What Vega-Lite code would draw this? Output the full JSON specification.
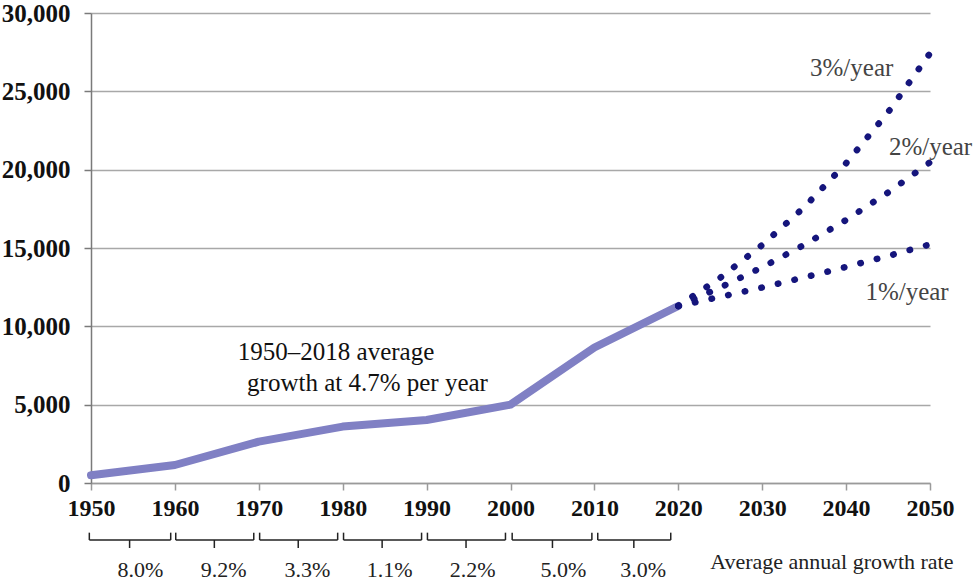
{
  "$schema": "https://vega.github.io/schema/vega-lite/v6.json",
  "width": 839,
  "height": 470,
  "autosize": "none",
  "padding": {"left": 91, "top": 13, "right": 45, "bottom": 100},
  "background": "white",
  "config": {"view": {"stroke": null}, "font": "Liberation Serif, Times New Roman, serif"},
  "datasets": {
    "hist": [
      {"year": 1950, "value": 500},
      {"year": 1960, "value": 1150},
      {"year": 1970, "value": 2640},
      {"year": 1980, "value": 3600},
      {"year": 1990, "value": 4020},
      {"year": 2000, "value": 5000},
      {"year": 2010, "value": 8650},
      {"year": 2020, "value": 11300}
    ],
    "proj": [
      {"year": 2020, "value": 11300, "s": "3%"},
      {"year": 2025, "value": 13100, "s": "3%"},
      {"year": 2030, "value": 15190, "s": "3%"},
      {"year": 2035, "value": 17600, "s": "3%"},
      {"year": 2040, "value": 20410, "s": "3%"},
      {"year": 2045, "value": 23660, "s": "3%"},
      {"year": 2050, "value": 27430, "s": "3%"},
      {"year": 2020, "value": 11300, "s": "2%"},
      {"year": 2025, "value": 12480, "s": "2%"},
      {"year": 2030, "value": 13770, "s": "2%"},
      {"year": 2035, "value": 15200, "s": "2%"},
      {"year": 2040, "value": 16790, "s": "2%"},
      {"year": 2045, "value": 18540, "s": "2%"},
      {"year": 2050, "value": 20470, "s": "2%"},
      {"year": 2020, "value": 11300, "s": "1%"},
      {"year": 2025, "value": 11880, "s": "1%"},
      {"year": 2030, "value": 12480, "s": "1%"},
      {"year": 2035, "value": 13120, "s": "1%"},
      {"year": 2040, "value": 13790, "s": "1%"},
      {"year": 2045, "value": 14490, "s": "1%"},
      {"year": 2050, "value": 15230, "s": "1%"}
    ],
    "brackets": [
      {"s": 1949.8, "e": 1959.5, "m": 1954.6, "lx": 1955.9, "label": "8.0%"},
      {"s": 1960.1, "e": 1969.4, "m": 1964.7, "lx": 1965.8, "label": "9.2%"},
      {"s": 1970.1, "e": 1979.4, "m": 1974.7, "lx": 1975.8, "label": "3.3%"},
      {"s": 1980.1, "e": 1989.4, "m": 1984.7, "lx": 1985.6, "label": "1.1%"},
      {"s": 1990.1, "e": 1999.4, "m": 1994.7, "lx": 1995.5, "label": "2.2%"},
      {"s": 2000.2, "e": 2009.7, "m": 2005.0, "lx": 2006.3, "label": "5.0%"},
      {"s": 2010.4, "e": 2019.1, "m": 2014.7, "lx": 2015.8, "label": "3.0%"}
    ],
    "notes": [
      {"x": 1967.5, "y": 8365, "t": "1950\u20132018 average", "c": "#111111"},
      {"x": 1968.6, "y": 6385, "t": "growth at 4.7% per year", "c": "#111111"},
      {"x": 2035.7, "y": 26500, "t": "3%/year", "c": "#444444"},
      {"x": 2045.1, "y": 21460, "t": "2%/year", "c": "#444444"},
      {"x": 2042.3, "y": 12200, "t": "1%/year", "c": "#444444"}
    ]
  },
  "layer": [
    {
      "data": {"name": "hist"},
      "mark": {"type": "line", "color": "#8080c4", "strokeWidth": 8, "strokeCap": "round", "strokeJoin": "round"},
      "encoding": {
        "x": {
          "field": "year", "type": "quantitative",
          "scale": {"domain": [1950, 2050], "nice": false, "zero": false},
          "axis": {
            "title": null, "grid": false, "format": "d",
            "values": [1950, 1960, 1970, 1980, 1990, 2000, 2010, 2020, 2030, 2040, 2050],
            "domainColor": "#9a9a9a", "domainWidth": 1.5,
            "tickColor": "#9a9a9a", "tickWidth": 1.5, "tickSize": 7,
            "labelFont": "Liberation Serif, Times New Roman, serif", "labelFontWeight": "bold", "labelFontSize": 24,
            "labelColor": "#111111", "labelPadding": 6, "labelFlush": false
          }
        },
        "y": {
          "field": "value", "type": "quantitative",
          "scale": {"domain": [0, 30000], "nice": false},
          "axis": {
            "title": null, "grid": true, "format": ",.0f",
            "values": [0, 5000, 10000, 15000, 20000, 25000, 30000],
            "gridColor": "#a8a8a8", "gridWidth": 1.5,
            "domainColor": "#7a7a7a", "domainWidth": 1.5,
            "tickColor": "#7a7a7a", "tickWidth": 1.5, "tickSize": 7,
            "labelFont": "Liberation Serif, Times New Roman, serif", "labelFontWeight": "bold", "labelFontSize": 25,
            "labelColor": "#111111", "labelPadding": 14
          }
        }
      }
    },
    {
      "data": {"name": "proj"},
      "mark": {"type": "line", "color": "#15157c", "strokeWidth": 6.5, "strokeCap": "round", "strokeDash": [0.5, 16.5]},
      "encoding": {
        "x": {"field": "year", "type": "quantitative"},
        "y": {"field": "value", "type": "quantitative"},
        "detail": {"field": "s"}
      }
    },
    {
      "data": {"name": "brackets"},
      "mark": {"type": "rule", "color": "#222222", "strokeWidth": 1.5},
      "encoding": {
        "x": {"field": "s", "type": "quantitative"},
        "x2": {"field": "e"},
        "y": {"datum": -3640, "type": "quantitative"}
      }
    },
    {
      "data": {"name": "brackets"},
      "mark": {"type": "rule", "color": "#222222", "strokeWidth": 1.5},
      "encoding": {
        "x": {"field": "s", "type": "quantitative"},
        "y": {"datum": -3640, "type": "quantitative"},
        "y2": {"datum": -3170}
      }
    },
    {
      "data": {"name": "brackets"},
      "mark": {"type": "rule", "color": "#222222", "strokeWidth": 1.5},
      "encoding": {
        "x": {"field": "e", "type": "quantitative"},
        "y": {"datum": -3640, "type": "quantitative"},
        "y2": {"datum": -3170}
      }
    },
    {
      "data": {"name": "brackets"},
      "mark": {"type": "rule", "color": "#222222", "strokeWidth": 1.5},
      "encoding": {
        "x": {"field": "m", "type": "quantitative"},
        "y": {"datum": -3640, "type": "quantitative"},
        "y2": {"datum": -4150}
      }
    },
    {
      "data": {"name": "brackets"},
      "mark": {"type": "text", "font": "Liberation Serif, Times New Roman, serif", "fontSize": 22, "color": "#222222", "align": "center", "baseline": "middle"},
      "encoding": {
        "x": {"field": "lx", "type": "quantitative"},
        "y": {"datum": -5560, "type": "quantitative"},
        "text": {"field": "label"}
      }
    },
    {
      "data": {"values": [{"x": 2023.8, "y": -5030, "t": "Average annual growth rate"}]},
      "mark": {"type": "text", "font": "Liberation Serif, Times New Roman, serif", "fontSize": 22, "color": "#222222", "align": "left", "baseline": "middle"},
      "encoding": {
        "x": {"field": "x", "type": "quantitative"},
        "y": {"field": "y", "type": "quantitative"},
        "text": {"field": "t"}
      }
    },
    {
      "data": {"name": "notes"},
      "mark": {"type": "text", "font": "Liberation Serif, Times New Roman, serif", "fontSize": 25, "align": "left", "baseline": "middle"},
      "encoding": {
        "x": {"field": "x", "type": "quantitative"},
        "y": {"field": "y", "type": "quantitative"},
        "text": {"field": "t"},
        "color": {"field": "c", "type": "nominal", "scale": null}
      }
    }
  ]
}
